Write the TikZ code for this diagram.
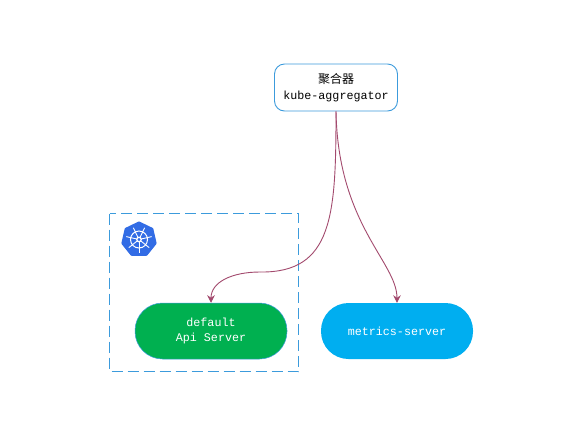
\documentclass[tikz,border=0pt]{standalone}
\usepackage{fontspec}
\setmonofont{Liberation Mono}
\newfontfamily\cjkfont{Noto Sans CJK SC}
\usetikzlibrary{arrows.meta}
\definecolor{flowc}{HTML}{A34A6E}
\definecolor{edgeb}{HTML}{3C9BDC}
\definecolor{apig}{HTML}{00B050}
\definecolor{metb}{HTML}{00AEF0}
\definecolor{kblue}{HTML}{326CE5}
\tikzset{
  flow/.style={draw=flowc,line width=0.9pt,-{Stealth[length=7.5pt,width=7.5pt]}},
  flowline/.style={draw=flowc,line width=0.9pt},
  pill/.style={rectangle,rounded corners=27.5pt,minimum width=152pt,minimum height=56pt,inner sep=0pt,align=center,text=white,font=\ttfamily\fontsize{11.7}{15}\selectfont},
  aggbox/.style={rectangle,rounded corners=10pt,draw=edgeb,line width=0.9pt,fill=white,minimum width=123pt,minimum height=47pt,inner sep=0pt,align=center,font=\ttfamily\fontsize{11.7}{16}\selectfont},
  zone/.style={draw=edgeb,line width=0.9pt,dash pattern=on 11pt off 5pt},
  wheel/.style={draw=white,line width=1pt}
}
\begin{document}
\begin{tikzpicture}[x=1pt,y=-1pt]
\useasboundingbox[fill=white] (0,0) rectangle (588,424);
\draw[zone] (109.5,213.5) rectangle (298.5,371.5);
\node[pill,fill=apig,draw=edgeb,line width=0.5pt] (api) at (211,331) {\raisebox{-1pt}{default}\\\raisebox{-1pt}{Api Server}};
\node[pill,fill=metb] (metrics) at (397,331) {metrics-server};
\node[aggbox] (agg) at (336,87.5) {{\cjkfont\fontsize{12}{16}\selectfont 聚合器}\\kube-aggregator};
\coordinate (mid) at (260,272);
\draw[flowline] (agg.south) .. controls (336,215) and (333,273) .. (mid);
\draw[flow] (mid) .. controls (232,272) and (211,282) .. (api.north);
\draw[flow] (agg.south) .. controls (338,225) and (397,262) .. (metrics.north);
% Kubernetes logo
\begin{scope}[shift={(139,239.5)}]
\fill[kblue,draw=kblue,line width=3pt,line join=round]
  (90:-16.5) -- (141.43:-16.5) -- (192.86:-16.5) -- (244.29:-16.5) -- (295.71:-16.5) -- (347.14:-16.5) -- (38.57:-16.5) -- cycle;
\draw[wheel] (0,0) circle (8.5);
\draw[wheel,line width=1.3pt] (0,0) circle (2.2);
\foreach \a in {90,141.43,192.86,244.29,295.71,347.14,38.57}{
  \draw[wheel,line width=0.9pt] (\a:2.2) -- (\a:13);
}
\end{scope}
\end{tikzpicture}
\end{document}
